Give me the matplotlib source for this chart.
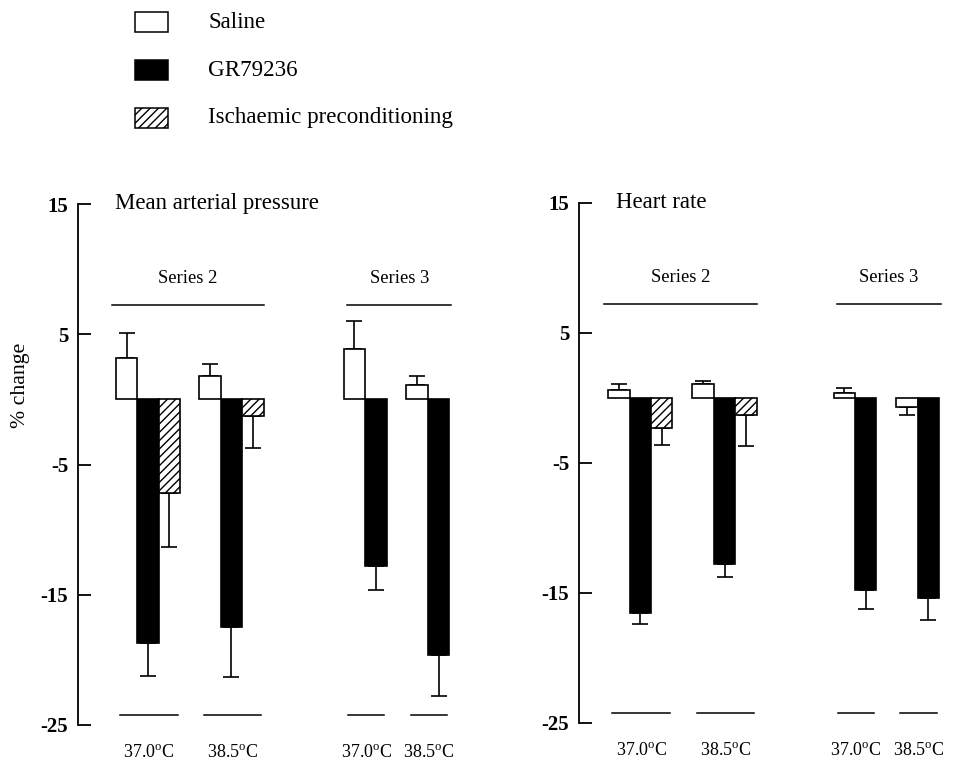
import numpy as np
from matplotlib import pyplot as plt
from matplotlib.patches import Rectangle

plt.rcParams['font.family'] = ['Liberation Serif', 'DejaVu Serif']
plt.rcParams['mathtext.fontset'] = 'custom'
plt.rcParams['mathtext.rm'] = 'Liberation Serif'
plt.rcParams['hatch.linewidth'] = 1.0
plt.rcParams['axes.unicode_minus'] = False

# data (% change, mean and one-sided SEM)
temps = ['37.0$^{\\rm o}$C', '38.5$^{\\rm o}$C', '37.0$^{\\rm o}$C', '38.5$^{\\rm o}$C']
series_names = ['Series 2', 'Series 3']
treatments = ['Saline', 'GR79236', 'Ischaemic preconditioning']

map_saline = [3.2, 1.8, 3.9, 1.1]
map_saline_err = [1.9, 0.9, 2.1, 0.7]
map_gr = [-18.7, -17.5, -12.8, -19.6]
map_gr_err = [2.5, 3.8, 1.8, 3.2]
map_ip = [-7.2, -1.3]
map_ip_err = [4.1, 2.4]

hr_saline = [0.6, 1.1, 0.4, -0.7]
hr_saline_err = [0.5, 0.2, 0.4, 0.6]
hr_gr = [-16.5, -12.8, -14.8, -15.4]
hr_gr_err = [0.9, 1.0, 1.4, 1.7]
hr_ip = [-2.3, -1.3]
hr_ip_err = [1.3, 2.4]

PX = 21.4  # pixels per bar width


def panel(ax, title, saline, saline_err, gr, gr_err, ip, ip_err, lefts, xmax):
    ax.set_xlim(0, xmax)
    ax.set_ylim(-25, 15)
    for sp in ['top', 'right', 'bottom']:
        ax.spines[sp].set_visible(False)
    ax.spines['left'].set_linewidth(1.3)
    ax.set_xticks([])
    ax.set_yticks([15, 5, -5, -15, -25])
    ax.tick_params(axis='y', direction='in', length=9.5, width=1.3, pad=7, labelsize=15)
    for lab in ax.get_yticklabels():
        lab.set_fontweight('bold')

    kw = dict(width=1, align='edge', edgecolor='black', linewidth=1.2, zorder=2)
    ekw = dict(fmt='none', ecolor='black', elinewidth=1.2, capsize=5.5, capthick=1.2, zorder=1)
    for i, x0 in enumerate(lefts):
        ax.bar(x0, saline[i], facecolor='white', **kw)
        ax.errorbar(x0 + 0.5, saline[i], yerr=[[0], [saline_err[i]]] if saline[i] > 0 else [[saline_err[i]], [0]], **ekw)
        ax.bar(x0 + 1, gr[i], facecolor='black', **kw)
        ax.errorbar(x0 + 1.5, gr[i], yerr=[[gr_err[i]], [0]], **ekw)
        n = 2
        if i < len(ip):
            ax.bar(x0 + 2, ip[i], facecolor='white', hatch='////', **kw)
            ax.errorbar(x0 + 2.5, ip[i], yerr=[[ip_err[i]], [0]], **ekw)
            n = 3
        # baseline and temperature label
        ax.plot([x0 + 0.2, x0 + n - 0.1], [-24.25, -24.25], color='black', lw=1.1, clip_on=False)
        ax.text(x0 + (n + 0.1) / 2, -27.2, temps[i], ha='center', va='center', fontsize=13, clip_on=False)

    # series brackets
    groups = [(lefts[0] - 0.2, lefts[1] + 3.0), (lefts[2] + 0.15, lefts[3] + 2.1)]
    for name, (a, b) in zip(series_names, groups):
        ax.plot([a, b], [7.25, 7.25], color='black', lw=1.1, clip_on=False)
        ax.text((a + b) / 2, 9.3, name, ha='center', va='center', fontsize=13.4)

    ax.text(1.73, 15, title, ha='left', va='center', fontsize=16.4)


W, H = 958, 764
fig = plt.figure(figsize=(W / 100, H / 100), dpi=100)

ax1 = fig.add_axes([78 / W, 1 - 725 / H, 392 / W, 521 / H])
panel(ax1, 'Mean arterial pressure', map_saline, map_saline_err, map_gr, map_gr_err,
      map_ip, map_ip_err, [1.77, 5.67, 12.42, 15.35], 392 / PX)

ax2 = fig.add_axes([579 / W, 1 - 723 / H, 379 / W, 520 / H])
panel(ax2, 'Heart rate', hr_saline, hr_saline_err, hr_gr, hr_gr_err,
      hr_ip, hr_ip_err, [1.36, 5.3, 11.9, 14.82], 379 / PX)

fig.text(20 / W, 1 - 385 / H, '% change', rotation=90, ha='center', va='center', fontsize=15.7)

# legend
styles = [dict(facecolor='white'), dict(facecolor='black'), dict(facecolor='white', hatch='////')]
for k, (lab, st) in enumerate(zip(treatments, styles)):
    yc = 22 + 48 * k
    fig.add_artist(Rectangle((135 / W, 1 - (yc + 10) / H), 33 / W, 20 / H, transform=fig.transFigure,
                             edgecolor='black', linewidth=1.1, **st))
    fig.text(208 / W, 1 - yc / H, lab, ha='left', va='center', fontsize=16.6)

fig.savefig('out.png', dpi=100)
